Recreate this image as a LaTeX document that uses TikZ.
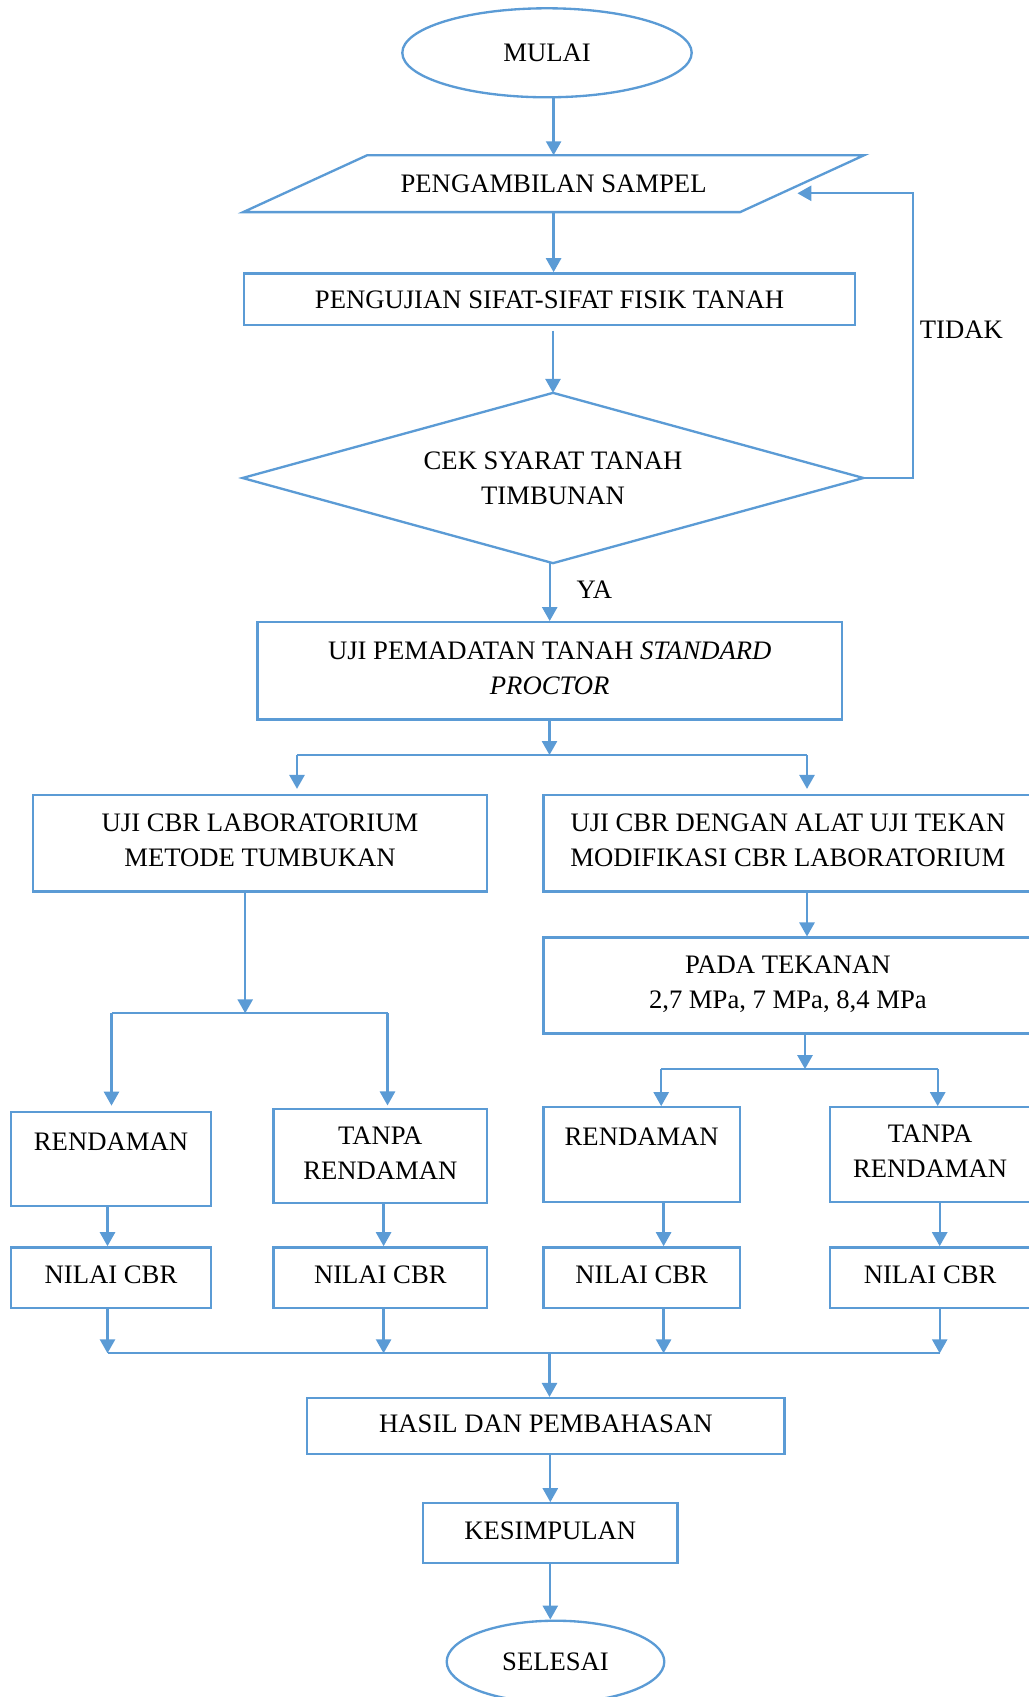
\documentclass[tikz,border=0pt]{standalone}
\usepackage{fontspec}
\setmainfont{Liberation Serif}
\usetikzlibrary{arrows.meta,shapes.geometric,calc}
\definecolor{fb}{HTML}{5B9BD5}
\tikzset{
  ln/.style={draw=fb, line width=1.05pt},
  arr/.style={ln, -{Triangle[width=6.8pt,length=6.3pt]}},
  sz/.style 2 args={minimum width={#1*0.45pt}, minimum height={#2*0.45pt}},
  plain/.style={rectangle, inner sep=0pt, align=center},
  box/.style={rectangle, draw=fb, line width=1.05pt, inner sep=0pt, align=center, text depth=2.7pt},
  term/.style={ellipse, draw=fb, line width=1.05pt, inner sep=0pt},
  txt/.style={inner sep=0pt}
}
\begin{document}
\begin{tikzpicture}[x=0.45pt, y=-0.45pt, font=\fontsize{12}{15.7}\selectfont]
\useasboundingbox (0,0) rectangle (1028,1697);

% nodes
\node[term, sz={289.4}{89}] (mulai) at (547,52.8) {MULAI};
\node[plain, sz={496}{56}] (pgam) at (553.6,183.7) {PENGAMBILAN SAMPEL};
\draw[ln] ($(pgam.north west)+(62,0)$) -- ($(pgam.north east)+(62,0)$)
  -- ($(pgam.south east)+(-62,0)$) -- ($(pgam.south west)+(-62,0)$) -- cycle;
\node[box, text depth=0pt, sz={610.8}{51.7}] (uji1) at (549.6,299.2) {PENGUJIAN SIFAT-SIFAT FISIK TANAH};
\node[plain, sz={620}{169.4}] (cek) at (553,478) {CEK SYARAT TANAH\\TIMBUNAN};
\draw[ln] (cek.north) -- (cek.east) -- (cek.south) -- (cek.west) -- cycle;
\node[txt] (tidak) at (961.3,329.3) {TIDAK};
\node[txt] (ya) at (594.3,590) {YA};
\node[box, sz={584.4}{97.4}] (pem) at (549.7,670.9) {UJI PEMADATAN TANAH \textit{STANDARD}\\\textit{PROCTOR}};
\node[box, sz={454.4}{96.7}] (lab) at (260,843.3) {UJI CBR LABORATORIUM\\METODE TUMBUKAN};
\node[box, sz={488.6}{96.7}] (mod) at (787.9,843.3) {UJI CBR DENGAN ALAT UJI TEKAN\\MODIFIKASI CBR LABORATORIUM};
\node[box, sz={488.6}{95.7}] (pada) at (787.9,985.5) {PADA TEKANAN\\2,7 MPa, 7 MPa, 8,4 MPa};

\node[box, text depth=0pt, sz={199.9}{94}] (r1) at (111,1158.7) {RENDAMAN\\\phantom{R}};
\node[box, sz={213.8}{94}] (t1) at (380.3,1156.3) {TANPA\\RENDAMAN};
\node[box, text depth=0pt, sz={196.1}{94.4}] (r2) at (641.7,1154.5) {RENDAMAN\\\phantom{R}};
\node[box, sz={199.8}{94.4}] (t2) at (930.1,1154.5) {TANPA\\RENDAMAN};

\node[box, sz={199.9}{60.7}] (n1) at (111,1277.7) {NILAI CBR};
\node[box, sz={213.8}{60.7}] (n2) at (380.3,1277.7) {NILAI CBR};
\node[box, sz={196.1}{60.7}] (n3) at (641.7,1277.7) {NILAI CBR};
\node[box, sz={199.8}{60.7}] (n4) at (930.1,1277.7) {NILAI CBR};

\node[box, sz={477.2}{56.2}] (hasil) at (545.9,1426.2) {HASIL DAN PEMBAHASAN};
\node[box, sz={254.3}{60}] (kes) at (550.3,1533.3) {KESIMPULAN};
\node[term, sz={217.6}{82}] (selesai) at (555.5,1661.7) {SELESAI};

% coordinates for connector lines
\coordinate (loopx) at (913.3,0);
\coordinate (tidaktip) at (797.4,193.3);
\coordinate (bL) at (297,755);
\coordinate (bR) at (807,755);
\coordinate (bC) at (549.5,755);
\coordinate (lx) at (245.2,1013.3);
\coordinate (lbL) at (111.5,1013.3);
\coordinate (lbR) at (387.5,1013.3);
\coordinate (rbC) at (805,1069.1);
\coordinate (rbL) at (661.2,1069.1);
\coordinate (rbR) at (937.7,1069.1);
\coordinate (d1) at (107.5,1353.3);
\coordinate (d2) at (383.6,1353.3);
\coordinate (d3) at (663.6,1353.3);
\coordinate (d4) at (939.7,1353.3);
\coordinate (dC) at (549.5,1353.3);

% connectors
\draw[arr] (mulai.south -| pgam.south) -- (pgam.south |- pgam.north);
\draw[arr] (pgam.south) -- (pgam.south |- uji1.north);
\draw[arr, shorten <=2pt] (uji1.south -| cek.north) -- (cek.north);
\draw[arr] (cek.east) -- (cek.east -| loopx) -- (loopx |- tidaktip) -- (tidaktip);
\draw[arr] (pem.north |- cek.south) -- (pem.north);

\draw[arr] (pem.south -| bC) -- (bC);
\draw[ln] (bL) -- (bR);
\draw[arr, shorten >=2.2pt] (bL) -- (bL |- lab.north);
\draw[arr, shorten >=2.2pt] (bR) -- (bR |- mod.north);
\draw[arr] (mod.south -| bR) -- (bR |- pada.north);

\draw[arr] (lab.south -| lx) -- (lx);
\draw[ln] (lbL) -- (lbR);
\draw[arr, shorten >=2.2pt] (lbL) -- (lbL |- r1.north);
\draw[arr, shorten >=1.2pt] (lbR) -- (lbR |- t1.north);

\draw[arr] (pada.south -| rbC) -- (rbC);
\draw[ln] (rbL) -- (rbR);
\draw[arr] (rbL) -- (rbL |- r2.north);
\draw[arr] (rbR) -- (rbR |- t2.north);

\draw[arr] (r1.south -| d1) -- (d1 |- n1.north);
\draw[arr] (t1.south -| d2) -- (d2 |- n2.north);
\draw[arr] (r2.south -| d3) -- (d3 |- n3.north);
\draw[arr] (t2.south -| d4) -- (d4 |- n4.north);

\draw[arr] (n1.south -| d1) -- (d1);
\draw[arr] (n2.south -| d2) -- (d2);
\draw[arr] (n3.south -| d3) -- (d3);
\draw[arr] (n4.south -| d4) -- (d4);
\draw[ln] (d1) -- (d4);
\draw[arr] (dC) -- (dC |- hasil.north);

\draw[arr] (kes.north |- hasil.south) -- (kes.north);
\draw[arr] (kes.south) -- (kes.south |- selesai.north);
\end{tikzpicture}
\end{document}
